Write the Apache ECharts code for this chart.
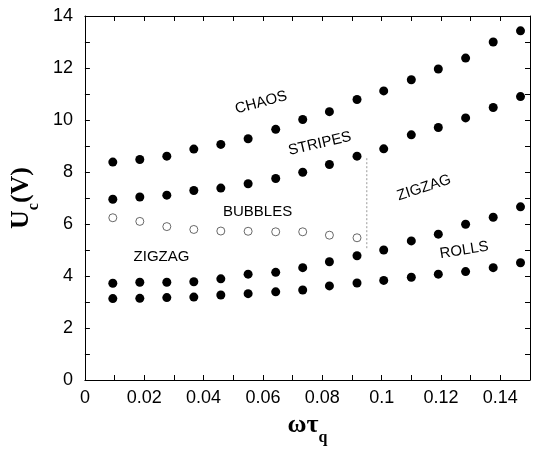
<!DOCTYPE html>
<html>
<head>
<meta charset="utf-8">
<script src="https://cdn.jsdelivr.net/npm/echarts@6/dist/echarts.min.js"></script>
<style>
  html, body { margin: 0; padding: 0; background: #fff; }
  #grafica { width: 536px; height: 451px; }
</style>
</head>
<body>
<div id="grafica"></div>
<script>
// omega*tau_q values shared by all threshold curves
const wTau = [0.0094, 0.0185, 0.0276, 0.0367, 0.0458, 0.0550, 0.0643, 0.0734,
              0.0824, 0.0917, 0.1007, 0.1100, 0.1191, 0.1283, 0.1376, 0.1468];
const uChaos   = [8.38, 8.48, 8.61, 8.88, 9.06, 9.28, 9.64, 10.02, 10.32, 10.79, 11.12, 11.55, 11.96, 12.38, 13.00, 13.43];
const uStripes = [6.95, 7.04, 7.11, 7.29, 7.38, 7.55, 7.75, 7.99, 8.29, 8.61, 8.89, 9.43, 9.71, 10.08, 10.48, 10.90];
const uBubbles = [6.24, 6.10, 5.90, 5.79, 5.73, 5.72, 5.70, 5.70, 5.57, 5.47];
const uZigzag  = [3.72, 3.76, 3.76, 3.78, 3.89, 4.07, 4.14, 4.32, 4.55, 4.78, 5.00, 5.35, 5.61, 5.99, 6.26, 6.66];
const uRolls   = [3.13, 3.14, 3.17, 3.19, 3.27, 3.32, 3.39, 3.46, 3.62, 3.73, 3.83, 3.95, 4.07, 4.17, 4.32, 4.51];

// dotted border between bubbles and zigzag
const borderX = [0.095, 0.095];
const borderY = [5.07, 8.6];

// region names
const regionNames = ['CHAOS', 'STRIPES', 'ZIGZAG', 'BUBBLES', 'ZIGZAG', 'ROLLS'];
const regionX     = [0.0594, 0.0792, 0.1143, 0.0582, 0.0258, 0.1278];
const regionY     = [10.67, 9.09, 7.39, 6.48, 4.75, 4.99];
const regionRot   = [15, 13, 18, 0, 0, 9];

const pares = (xs, ys) => ys.map((y, i) => [xs[i], y]);

const ejeX = (pos, conEtiqueta) => ({
    type: 'value', position: pos, min: 0, max: 0.15, interval: 0.01,
    axisLine: { onZero: false, lineStyle: { color: '#000', width: 1 } },
    axisTick: { inside: true, length: 5, lineStyle: { color: '#000' } },
    splitLine: { show: false },
    axisLabel: {
        show: conEtiqueta, margin: 9, color: '#000', fontSize: 18,
        fontFamily: 'Liberation Sans, Arial, sans-serif',
        formatter: v => Math.round(v * 100) % 2 === 0 ? String(+v.toFixed(2)) : ''
    }
});

const ejeY = (pos, conEtiqueta) => ({
    type: 'value', position: pos, min: 0, max: 14, interval: 1,
    axisLine: { onZero: false, lineStyle: { color: '#000', width: 1 } },
    axisTick: { inside: true, length: 5, lineStyle: { color: '#000' } },
    splitLine: { show: false },
    axisLabel: {
        show: conEtiqueta, margin: 12, color: '#000', fontSize: 18,
        fontFamily: 'Liberation Sans, Arial, sans-serif',
        formatter: v => Math.round(v) % 2 === 0 ? String(Math.round(v)) : ''
    }
});

const puntos = (ys, xs) => ({
    type: 'scatter', xAxisIndex: 0, yAxisIndex: 0,
    symbol: 'circle', symbolSize: 9,
    itemStyle: { color: '#000', opacity: 1 },
    data: pares(xs || wTau, ys)
});

const tituloRico = {
    rich: {
        a: { fontSize: 26, fontWeight: 'bold', fontFamily: 'Liberation Serif, Times New Roman, serif', color: '#000', lineHeight: 30, verticalAlign: 'bottom' },
        b: { fontSize: 16, fontWeight: 'bold', fontFamily: 'Liberation Serif, Times New Roman, serif', color: '#000', lineHeight: 30, verticalAlign: 'bottom', padding: [0, 0, -8, 0] }
    }
};

const initGrafica = () => {
    const myChart = echarts.init(document.getElementById('grafica'));
    const ejeXBase = ejeX('bottom', true);
    ejeXBase.name = '{a|ωτ}{b|q}';
    ejeXBase.nameLocation = 'middle';
    ejeXBase.nameGap = 28;
    ejeXBase.nameTextStyle = tituloRico;
    const ejeYBase = ejeY('left', true);
    ejeYBase.name = '{a|U}{b|c}{a|(V)}';
    ejeYBase.nameLocation = 'middle';
    ejeYBase.nameGap = 42;
    ejeYBase.nameRotate = 90;
    ejeYBase.nameTextStyle = tituloRico;

    myChart.setOption({
        animation: false,
        backgroundColor: '#fff',
        grid: { left: 83, right: 6, top: 16, bottom: 63 },
        xAxis: [ejeXBase, ejeX('top', false)],
        yAxis: [ejeYBase, ejeY('right', false)],
        series: [
            puntos(uChaos),
            puntos(uStripes),
            puntos(uZigzag),
            puntos(uRolls),
            {
                type: 'scatter', symbol: 'circle', symbolSize: 8,
                itemStyle: { color: '#fff', borderColor: '#444', borderWidth: 1 },
                data: pares(wTau, uBubbles)
            },
            {
                type: 'line', symbol: 'none',
                lineStyle: { type: [2, 2], color: '#999', width: 1 },
                data: pares(borderX, borderY)
            },
            {
                type: 'scatter', symbolSize: 1, silent: true,
                itemStyle: { color: 'rgba(0,0,0,0)' },
                data: regionNames.map((n, i) => ({
                    value: [regionX[i], regionY[i]],
                    label: { rotate: regionRot[i] },
                    name: n
                })),
                label: {
                    show: true, position: 'inside', formatter: p => p.name,
                    color: '#000', fontSize: 15, opacity: 1,
                    textBorderWidth: 0, textShadowBlur: 0,
                    fontFamily: 'Liberation Sans, Arial, sans-serif'
                }
            }
        ]
    });
};

window.addEventListener('load', () => {
    initGrafica();
});
</script>
</body>
</html>
